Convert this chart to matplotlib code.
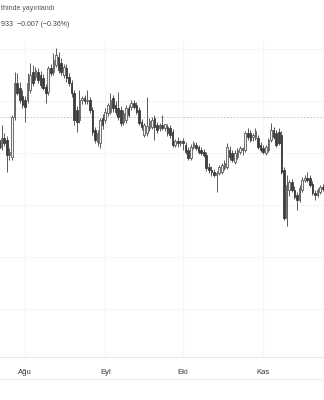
import numpy as np
import pandas as pd
import matplotlib
matplotlib.use("Agg")
import matplotlib.pyplot as plt
import matplotlib.dates as mdates

# daily candles
dates = pd.date_range("2023-07-22", periods=126, freq="D")

opens = [
    1.9377, 1.9370, 1.9379, 1.9377, 1.9362, 1.9360, 1.9400, 1.9434, 1.9429, 1.9421,
    1.9417, 1.9417, 1.9427, 1.9445, 1.9440, 1.9445, 1.9442, 1.9439, 1.9430, 1.9425,
    1.9449, 1.9445, 1.9452, 1.9460, 1.9454, 1.9442, 1.9449, 1.9440, 1.9434, 1.9424,
    1.9407, 1.9397, 1.9417, 1.9419, 1.9416, 1.9417, 1.9407, 1.9387, 1.9375, 1.9374,
    1.9399, 1.9397, 1.9404, 1.9405, 1.9419, 1.9412, 1.9409, 1.9407, 1.9395, 1.9397,
    1.9409, 1.9410, 1.9414, 1.9412, 1.9407, 1.9395, 1.9382, 1.9384, 1.9389, 1.9390,
    1.9399, 1.9392, 1.9389, 1.9392, 1.9389, 1.9390, 1.9389, 1.9385, 1.9372, 1.9376,
    1.9374, 1.9376, 1.9372, 1.9367, 1.9359, 1.9370, 1.9372, 1.9370, 1.9367, 1.9365,
    1.9362, 1.9350, 1.9347, 1.9345, 1.9342, 1.9344, 1.9345, 1.9349, 1.9350, 1.9367,
    1.9364, 1.9355, 1.9360, 1.9365, 1.9367, 1.9367, 1.9384, 1.9384, 1.9380, 1.9379,
    1.9379, 1.9372, 1.9369, 1.9364, 1.9367, 1.9377, 1.9387, 1.9384, 1.9385, 1.9382,
    1.9347, 1.9299, 1.9327, 1.9335, 1.9327, 1.9322, 1.9317, 1.9327, 1.9337, 1.9339,
    1.9339, 1.9333, 1.9324, 1.9322, 1.9325, 1.9330,
]
highs = [
    1.9382, 1.9392, 1.9384, 1.9381, 1.9369, 1.9402, 1.9445, 1.9444, 1.9435, 1.9427,
    1.9421, 1.9444, 1.9454, 1.9452, 1.9450, 1.9449, 1.9446, 1.9443, 1.9433, 1.9451,
    1.9453, 1.9464, 1.9469, 1.9465, 1.9459, 1.9453, 1.9453, 1.9444, 1.9437, 1.9427,
    1.9411, 1.9427, 1.9421, 1.9422, 1.9427, 1.9420, 1.9410, 1.9390, 1.9387, 1.9399,
    1.9403, 1.9409, 1.9414, 1.9424, 1.9422, 1.9416, 1.9425, 1.9411, 1.9407, 1.9412,
    1.9412, 1.9417, 1.9417, 1.9415, 1.9410, 1.9398, 1.9394, 1.9420, 1.9399, 1.9400,
    1.9402, 1.9395, 1.9394, 1.9402, 1.9393, 1.9393, 1.9392, 1.9388, 1.9378, 1.9380,
    1.9377, 1.9379, 1.9375, 1.9370, 1.9373, 1.9376, 1.9375, 1.9372, 1.9370, 1.9368,
    1.9365, 1.9354, 1.9351, 1.9348, 1.9346, 1.9352, 1.9354, 1.9357, 1.9374, 1.9371,
    1.9367, 1.9367, 1.9369, 1.9371, 1.9370, 1.9386, 1.9389, 1.9387, 1.9384, 1.9389,
    1.9382, 1.9375, 1.9372, 1.9372, 1.9379, 1.9394, 1.9390, 1.9387, 1.9389, 1.9386,
    1.9350, 1.9342, 1.9337, 1.9338, 1.9331, 1.9325, 1.9332, 1.9340, 1.9342, 1.9345,
    1.9342, 1.9336, 1.9327, 1.9329, 1.9332, 1.9333,
]
lows = [
    1.9364, 1.9367, 1.9371, 1.9345, 1.9357, 1.9357, 1.9397, 1.9422, 1.9414, 1.9409,
    1.9395, 1.9414, 1.9424, 1.9431, 1.9437, 1.9434, 1.9429, 1.9427, 1.9414, 1.9422,
    1.9441, 1.9442, 1.9450, 1.9444, 1.9442, 1.9439, 1.9435, 1.9431, 1.9420, 1.9392,
    1.9385, 1.9394, 1.9413, 1.9413, 1.9413, 1.9404, 1.9382, 1.9374, 1.9371, 1.9369,
    1.9388, 1.9394, 1.9401, 1.9403, 1.9405, 1.9402, 1.9397, 1.9391, 1.9392, 1.9394,
    1.9400, 1.9407, 1.9408, 1.9403, 1.9392, 1.9387, 1.9380, 1.9381, 1.9386, 1.9388,
    1.9377, 1.9384, 1.9386, 1.9387, 1.9386, 1.9381, 1.9379, 1.9370, 1.9370, 1.9370,
    1.9371, 1.9367, 1.9363, 1.9357, 1.9357, 1.9368, 1.9367, 1.9363, 1.9362, 1.9360,
    1.9346, 1.9344, 1.9341, 1.9340, 1.9325, 1.9342, 1.9343, 1.9347, 1.9348, 1.9357,
    1.9355, 1.9353, 1.9358, 1.9363, 1.9362, 1.9365, 1.9377, 1.9375, 1.9376, 1.9377,
    1.9368, 1.9365, 1.9363, 1.9362, 1.9365, 1.9375, 1.9378, 1.9370, 1.9372, 1.9343,
    1.9297, 1.9291, 1.9321, 1.9325, 1.9318, 1.9307, 1.9315, 1.9325, 1.9335, 1.9335,
    1.9330, 1.9322, 1.9317, 1.9320, 1.9323, 1.9326,
]
closes = [
    1.9369, 1.9379, 1.9374, 1.9362, 1.9365, 1.9400, 1.9434, 1.9424, 1.9417, 1.9412,
    1.9410, 1.9434, 1.9442, 1.9434, 1.9447, 1.9437, 1.9432, 1.9429, 1.9424, 1.9449,
    1.9444, 1.9457, 1.9462, 1.9447, 1.9445, 1.9450, 1.9439, 1.9434, 1.9424, 1.9397,
    1.9395, 1.9417, 1.9419, 1.9416, 1.9417, 1.9407, 1.9385, 1.9377, 1.9384, 1.9397,
    1.9392, 1.9405, 1.9412, 1.9417, 1.9409, 1.9405, 1.9400, 1.9394, 1.9404, 1.9409,
    1.9402, 1.9414, 1.9410, 1.9405, 1.9394, 1.9390, 1.9392, 1.9391, 1.9396, 1.9397,
    1.9390, 1.9387, 1.9392, 1.9389, 1.9393, 1.9384, 1.9382, 1.9372, 1.9376, 1.9374,
    1.9376, 1.9374, 1.9365, 1.9359, 1.9370, 1.9374, 1.9369, 1.9365, 1.9364, 1.9362,
    1.9349, 1.9347, 1.9345, 1.9342, 1.9344, 1.9350, 1.9352, 1.9354, 1.9370, 1.9360,
    1.9357, 1.9364, 1.9367, 1.9369, 1.9369, 1.9384, 1.9380, 1.9377, 1.9382, 1.9386,
    1.9370, 1.9367, 1.9365, 1.9370, 1.9377, 1.9387, 1.9380, 1.9372, 1.9374, 1.9345,
    1.9299, 1.9332, 1.9335, 1.9327, 1.9320, 1.9317, 1.9329, 1.9337, 1.9339, 1.9337,
    1.9332, 1.9324, 1.9322, 1.9327, 1.9330, 1.9328,
]

prev_close = 1.9400
month_starts = pd.to_datetime(["2023-08-01", "2023-09-01", "2023-10-01", "2023-11-01"])
month_labels = ["Ağu", "Eyl", "Eki", "Kas"]
header_1 = "thinde yayınlandı"
header_2 = "933  −0.007 (−0.36%)"

plt.rcParams["font.family"] = ["Liberation Sans", "DejaVu Sans"]

fig = plt.figure(figsize=(3.24, 4.0), dpi=100)
ax = fig.add_axes([0, 0.1075, 1, 0.7925])

x = mdates.date2num(dates)
o = np.array(opens)
h = np.array(highs)
l = np.array(lows)
c = np.array(closes)
up = c >= o

ax.vlines(x, l, h, color="#5a5a5a", linewidth=0.7, zorder=2)
body_lo = np.minimum(o, c)
body_h = np.maximum(np.abs(c - o), 0.00008)
ax.bar(x[up], body_h[up], bottom=body_lo[up], width=0.62, color="#f4f4f4",
       edgecolor="#5a5a5a", linewidth=0.6, zorder=3)
ax.bar(x[~up], body_h[~up], bottom=body_lo[~up], width=0.62, color="#3c3c3c",
       edgecolor="#3c3c3c", linewidth=0.6, zorder=3)

ax.axhline(prev_close, color="#bdbdbd", linewidth=0.6, linestyle=(0, (2, 2)), zorder=1)

ax.set_xlim(x[0] + 0.35, x[0] + 125.45)
ax.set_ylim(1.9160, 1.9477)

ax.set_yticks(np.arange(1.9208, 1.948, 0.0052))
ax.set_yticklabels([])
ax.tick_params(axis="y", length=0)
ax.set_xticks(mdates.date2num(month_starts))
ax.set_xticklabels(month_labels, fontsize=5.5, color="#333333")
ax.tick_params(axis="x", length=0, pad=9)
ax.grid(True, color="#f4f5f7", linewidth=0.8, zorder=0)

for s in ["top", "left", "right"]:
    ax.spines[s].set_visible(False)
ax.spines["bottom"].set_color("#e8e8e8")
ax.spines["bottom"].set_linewidth(0.8)

# line under the time scale
fig.add_artist(plt.Line2D([0, 1], [1 - 379 / 400, 1 - 379 / 400],
                          color="#efefef", linewidth=0.8))

fig.text(0.003, 1 - 9 / 400, header_1, fontsize=5, color="#555555", va="center")
fig.text(0.003, 1 - 25 / 400, header_2, fontsize=5, color="#444444", va="center")

fig.savefig("out.png", dpi=100, facecolor="white")
